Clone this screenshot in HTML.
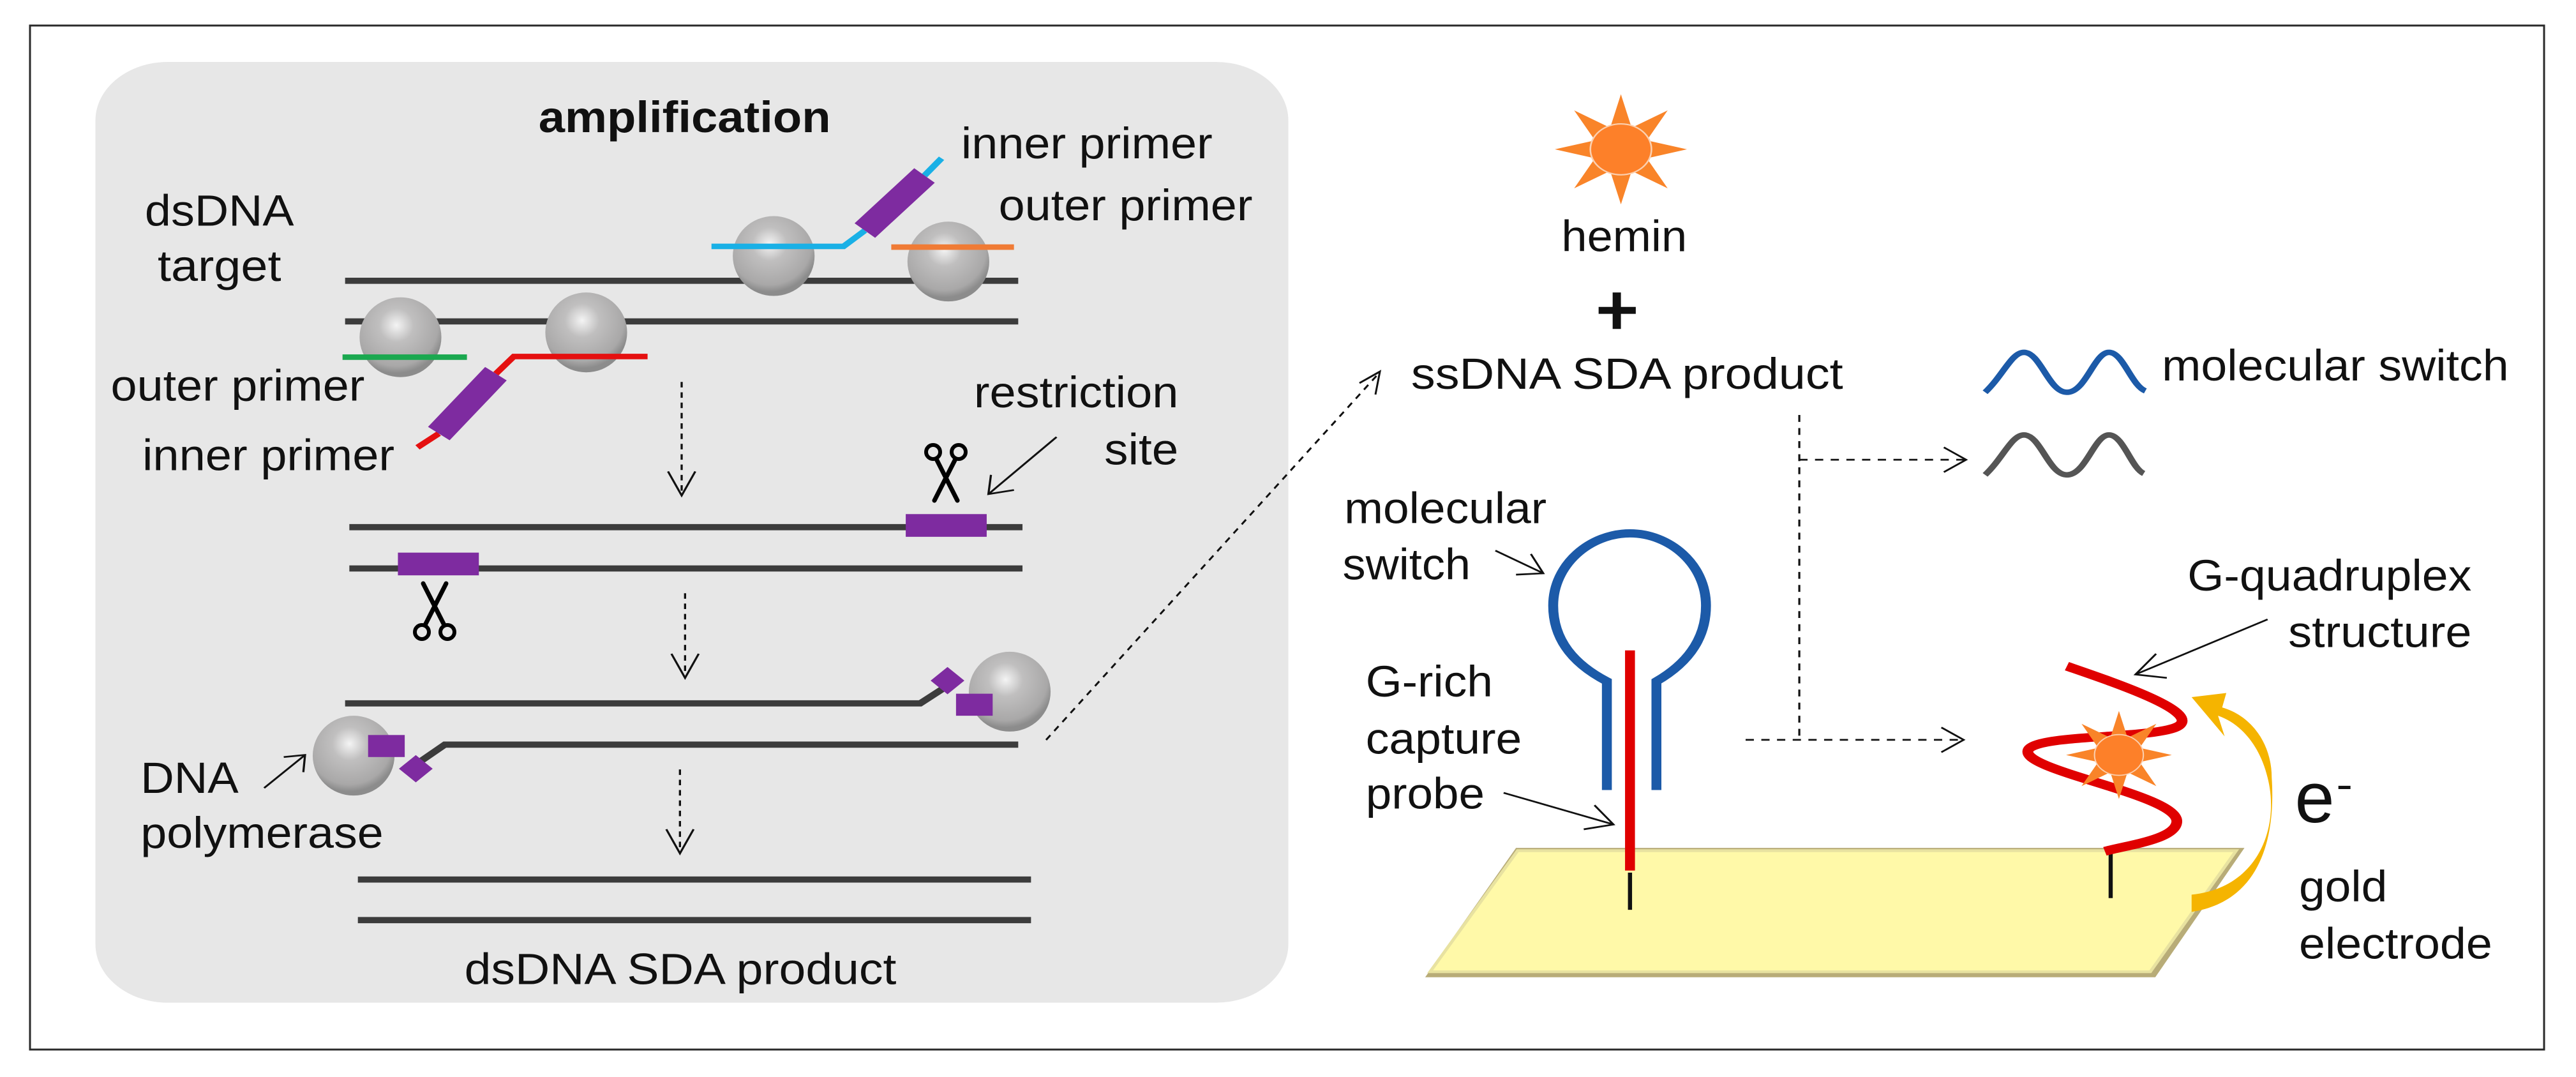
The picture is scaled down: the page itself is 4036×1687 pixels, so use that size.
<!DOCTYPE html>
<html><head><meta charset="utf-8"><style>html,body{margin:0;padding:0;background:#fff}svg{display:block}</style></head>
<body>
<svg width="4036" height="1687" viewBox="0 0 4036 1687" xmlns="http://www.w3.org/2000/svg" font-family="Liberation Sans, Arial, sans-serif">
<defs>
<radialGradient id="sph" cx="0.45" cy="0.35" r="0.6">
<stop offset="0" stop-color="#f4f4f4"/><stop offset="0.35" stop-color="#c0bfbf"/><stop offset="0.85" stop-color="#a9a8a8"/><stop offset="1" stop-color="#8c8c8c"/>
</radialGradient>
<g id="sun"><polygon fill="#f98429" points="0,-80 13,-31.4 56.6,-56.6 31.4,-13 80,0 31.4,13 56.6,56.6 13,31.4 0,80 -13,31.4 -56.6,56.6 -31.4,13 -80,0 -31.4,-13 -56.6,-56.6 -13,-31.4"/><circle r="37" fill="#fd8029" stroke="#fbd0b0" stroke-width="2"/></g>
<g id="sc" fill="none" stroke="#000">
<circle cx="-20" cy="-28" r="11" stroke-width="6"/><circle cx="20" cy="-28" r="11" stroke-width="6"/>
<path d="M-15,-17 L18,48 M15,-17 L-18,48" stroke-width="7" stroke-linecap="round"/>
</g>
</defs>
<rect x="0" y="0" width="4036" height="1687" fill="#fff"/>
<rect x="47" y="40" width="3939" height="1604" fill="none" stroke="#2a2a2a" stroke-width="3"/>

<!-- LEFT PANEL (zoom1 coords) -->
<g transform="scale(1.335,1.078)">
<rect x="112" y="90" width="1400" height="1367" rx="85" fill="#e7e7e7"/>
<g fill="#111" font-size="64">
<text x="632" y="192" font-weight="bold" textLength="343" lengthAdjust="spacingAndGlyphs">amplification</text>
<text x="1128" y="230" textLength="295" lengthAdjust="spacingAndGlyphs">inner primer</text>
<text x="1172" y="320" textLength="298" lengthAdjust="spacingAndGlyphs">outer primer</text>
<text x="170" y="328" textLength="175" lengthAdjust="spacingAndGlyphs">dsDNA</text>
<text x="185" y="408" textLength="145" lengthAdjust="spacingAndGlyphs">target</text>
<text x="130" y="582" textLength="298" lengthAdjust="spacingAndGlyphs">outer primer</text>
<text x="167" y="683" textLength="296" lengthAdjust="spacingAndGlyphs">inner primer</text>
<text x="1143" y="592" textLength="240" lengthAdjust="spacingAndGlyphs">restriction</text>
<text x="1296" y="675" textLength="87" lengthAdjust="spacingAndGlyphs">site</text>
<text x="165" y="1152" textLength="115" lengthAdjust="spacingAndGlyphs">DNA</text>
<text x="165" y="1232" textLength="285" lengthAdjust="spacingAndGlyphs">polymerase</text>
<text x="545" y="1430" textLength="507" lengthAdjust="spacingAndGlyphs">dsDNA SDA product</text>
</g>
<g stroke="#3c3c3c" stroke-width="9" fill="none">
<line x1="405" y1="408" x2="1195" y2="408"/><line x1="405" y1="467" x2="1195" y2="467"/>
<line x1="410" y1="766" x2="1200" y2="766"/><line x1="410" y1="826" x2="1200" y2="826"/>
<polyline points="405,1022 1080,1022 1110,998"/><line x1="1150" y1="1022" x2="1193" y2="1022"/>
<polyline points="1195,1082 522,1082 495,1105"/><line x1="405" y1="1082" x2="440" y2="1082"/>
<line x1="420" y1="1278" x2="1210" y2="1278"/><line x1="420" y1="1337" x2="1210" y2="1337"/>
</g>
<g fill="url(#sph)">
<ellipse cx="908" cy="372" rx="48" ry="58"/><ellipse cx="1113" cy="380" rx="48" ry="58"/>
<ellipse cx="470" cy="490" rx="48" ry="58"/><ellipse cx="688" cy="483" rx="48" ry="58"/>
<ellipse cx="1185" cy="1005" rx="48" ry="58"/><ellipse cx="415" cy="1098" rx="48" ry="58"/>
</g>
<g fill="none" stroke-width="8">
<polyline points="835,358 990,358 1015,335" stroke="#19b0e6"/>
<line x1="1085" y1="255" x2="1105" y2="230" stroke="#19b0e6"/>
<line x1="1015" y1="335" x2="1085" y2="255" stroke="#7e2ba0" stroke-width="32"/>
<line x1="1046" y1="359" x2="1190" y2="359" stroke="#f07b35"/>
<line x1="402" y1="519" x2="548" y2="519" stroke="#1aa84f"/>
<polyline points="760,518 603,518 582,543" stroke="#e51010"/>
<line x1="515" y1="630" x2="490" y2="650" stroke="#e51010"/>
<line x1="582" y1="543" x2="515" y2="630" stroke="#7e2ba0" stroke-width="32"/>
</g>
<g fill="#7e2ba0">
<rect x="1063" y="747" width="95" height="33"/><rect x="467" y="803" width="95" height="33"/>
<rect x="1122" y="1008" width="43" height="32"/><rect x="1098" y="975" width="28" height="28" transform="rotate(45 1112 989)"/>
<rect x="432" y="1068" width="43" height="32"/><rect x="474" y="1103" width="28" height="28" transform="rotate(45 488 1117)"/>
</g>
<g stroke="#111" stroke-width="2.5" fill="none" stroke-dasharray="8,7">
<line x1="800" y1="555" x2="800" y2="718"/><line x1="804" y1="862" x2="804" y2="983"/><line x1="798" y1="1118" x2="798" y2="1238"/>
</g>
<g stroke="#111" stroke-width="2.5" fill="none">
<polyline points="784,685 800,720 816,685"/><polyline points="788,950 804,985 820,950"/><polyline points="782,1205 798,1240 814,1205"/>
<line x1="1240" y1="635" x2="1160" y2="718"/><polyline points="1163,690 1160,718 1190,712"/>
<line x1="310" y1="1145" x2="358" y2="1097"/><polyline points="333,1100 358,1097 356,1122"/>
</g>
</g>

<!-- scissors (original coords) -->
<use href="#sc" transform="translate(1482,736)"/>
<use href="#sc" transform="translate(681,962) rotate(180)"/>

<!-- long dashed connector -->
<line x1="1639" y1="1159" x2="2160" y2="585" stroke="#111" stroke-width="3" stroke-dasharray="10,9"/>
<polyline points="2130,600 2162,582 2155,618" fill="none" stroke="#111" stroke-width="3"/>

<!-- RIGHT (zoom2 coords) -->
<g transform="translate(2000,0) scale(1.294,1.078)">
<use href="#sun" transform="translate(417,217)"/>
<g fill="#111" font-size="64">
<text x="345" y="365" textLength="152" lengthAdjust="spacingAndGlyphs">hemin</text>
<text x="163" y="565" textLength="523" lengthAdjust="spacingAndGlyphs">ssDNA SDA product</text>
<text x="1072" y="553" textLength="420" lengthAdjust="spacingAndGlyphs">molecular switch</text>
<text x="82" y="760" textLength="245" lengthAdjust="spacingAndGlyphs">molecular</text>
<text x="80" y="842" textLength="155" lengthAdjust="spacingAndGlyphs">switch</text>
<text x="108" y="1012" textLength="154" lengthAdjust="spacingAndGlyphs">G-rich</text>
<text x="108" y="1095" textLength="189" lengthAdjust="spacingAndGlyphs">capture</text>
<text x="108" y="1175" textLength="144" lengthAdjust="spacingAndGlyphs">probe</text>
<text x="1103" y="858" textLength="344" lengthAdjust="spacingAndGlyphs">G-quadruplex</text>
<text x="1225" y="940" textLength="222" lengthAdjust="spacingAndGlyphs">structure</text>
<text x="1238" y="1310" textLength="107" lengthAdjust="spacingAndGlyphs">gold</text>
<text x="1238" y="1393" textLength="234" lengthAdjust="spacingAndGlyphs">electrode</text>
<text x="1233" y="1195" font-size="104" textLength="48" lengthAdjust="spacingAndGlyphs">e</text>
<text x="1283" y="1160" font-size="60">-</text>
</g>
<g stroke="#111" stroke-width="10"><line x1="390" y1="451" x2="435" y2="451"/><line x1="412" y1="425" x2="412" y2="478"/></g>
<path d="M858,570 C880,545 890,512 905,512 C925,512 935,570 957,570 C980,570 990,512 1008,512 C1025,512 1035,560 1052,568" fill="none" stroke="#1c5aa8" stroke-width="8"/>
<path d="M858,690 C880,665 890,632 905,632 C925,632 935,690 957,690 C980,690 990,632 1008,632 C1025,632 1035,680 1050,688" fill="none" stroke="#555" stroke-width="8"/>
<g stroke="#111" stroke-width="2.5" fill="none">
<line x1="633" y1="603" x2="633" y2="1072" stroke-dasharray="10,9"/>
<line x1="633" y1="668" x2="833" y2="668" stroke-dasharray="10,9"/>
<line x1="568" y1="1075" x2="830" y2="1075" stroke-dasharray="10,9"/>
<polyline points="808,650 835,668 808,686"/><polyline points="805,1057 832,1075 805,1093"/>
<line x1="265" y1="800" x2="323" y2="833"/><polyline points="290,835 323,833 308,805"/>
<line x1="275" y1="1152" x2="408" y2="1198"/><polyline points="372,1205 408,1198 385,1170"/>
<line x1="1200" y1="900" x2="1040" y2="980"/><polyline points="1078,985 1040,980 1065,950"/>
</g>
<!-- electrode -->
<polygon points="180,1420 1064,1420 1172,1232 290,1232" fill="#b8ac78"/>
<polygon points="186,1412 1058,1412 1162,1236 292,1236" fill="#fff9a8" stroke="#e8e2a0" stroke-width="4"/>
<!-- hairpin -->
<path d="M400,1148 L400,990 C360,965 335,930 335,880 C335,820 380,775 428,775 C476,775 520,820 520,880 C520,930 496,965 460,990 L460,1148" fill="none" stroke="#1c5aa8" stroke-width="12"/>
<line x1="428" y1="945" x2="428" y2="1265" stroke="#e00000" stroke-width="12"/>
<line x1="428" y1="1268" x2="428" y2="1322" stroke="#111" stroke-width="5"/>
<line x1="1010" y1="1240" x2="1010" y2="1305" stroke="#111" stroke-width="5"/>
<!-- helix -->
<path d="M957,968 C1010,990 1110,1030 1095,1052 C1080,1075 920,1065 910,1090 C900,1120 1095,1155 1090,1195 C1087,1220 1030,1228 1003,1237" fill="none" stroke="#e00000" stroke-width="13"/>
<use href="#sun" transform="translate(1020,1097) scale(0.8)"/>
<!-- yellow arrow -->
<path d="M1108,1300 C1190,1290 1215,1200 1200,1130 C1190,1080 1165,1050 1140,1040 L1148,1070 L1108,1013 L1150,1007 L1145,1028 C1180,1040 1205,1080 1205,1130 C1210,1220 1190,1310 1108,1325 Z" fill="#f5b400"/>
</g>
</svg>
</body></html>
